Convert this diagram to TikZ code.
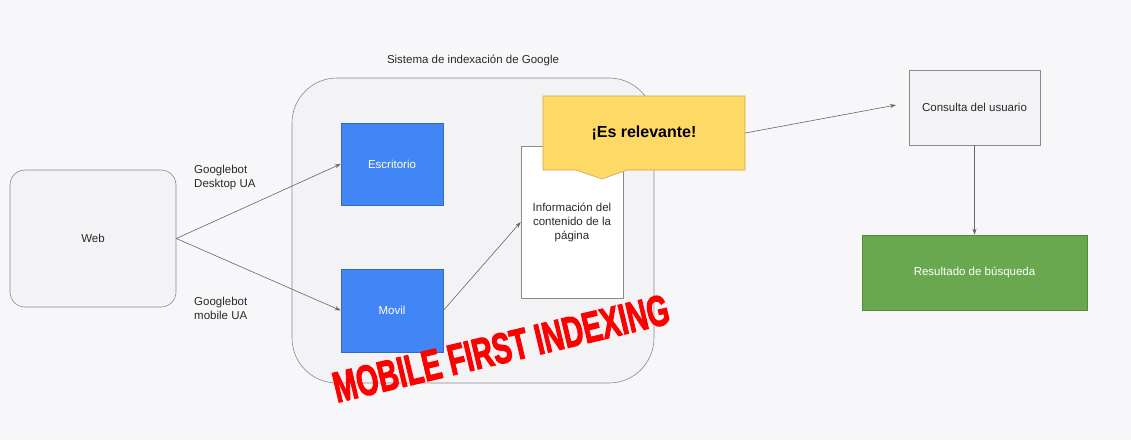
\documentclass[tikz,border=0pt]{standalone}
\usepackage{fontspec}
\usepackage{graphicx}
\setmainfont{Liberation Sans}
\newfontfamily\heavyfont{Liberation Sans}[BoldFeatures={FakeBold=3}]
\usetikzlibrary{arrows.meta}
\definecolor{bg}{HTML}{F7F6F9}
\definecolor{boxfill}{HTML}{F3F2F5}
\definecolor{edge}{HTML}{8A8A8A}
\definecolor{gblue}{HTML}{4285F4}
\definecolor{ggreen}{HTML}{6AA84F}
\definecolor{gyellow}{HTML}{FFD966}
\definecolor{yedge}{HTML}{C9A94A}
\definecolor{txt}{HTML}{2A2A2A}
\definecolor{arr}{HTML}{666666}
\tikzset{
  base/.style={draw=edge, line width=0.6pt, inner sep=2pt, align=center, font=\fontsize{11.5}{14}\selectfont, text=txt},
  soft/.style={base, fill=boxfill, rounded corners=15pt},
  plain/.style={base, fill=boxfill},
  bluebox/.style={base, fill=gblue, draw=gblue!80!black, text=white},
  greenbox/.style={base, fill=ggreen, draw=ggreen!80!black, text=white},
  conn/.style={draw=arr, line width=0.6pt, -{Stealth[length=6pt,width=4pt]}},
  lbl/.style={align=left, font=\fontsize{11.5}{14}\selectfont, text=txt, inner sep=0pt, anchor=north west},
}
\begin{document}
\begin{tikzpicture}[x=1pt,y=-1pt]
\fill[bg] (0,0) rectangle (1131,440);
\useasboundingbox (0,0) rectangle (1131,440);

% container
\draw[edge, line width=0.6pt, fill=boxfill, rounded corners=45pt] (292,78) rectangle (654,383);
\node[lbl, anchor=center] (title) at (473,60) {Sistema de indexación de Google};

\node[soft, minimum width=166pt, minimum height=137pt] (web) at (93,238.5) {Web};
\node[bluebox, minimum width=102pt, minimum height=82pt] (esc) at (392,164) {Escritorio};
\node[bluebox, minimum width=102pt, minimum height=83pt] (mov) at (392,310.5) {Movil};
\node[base, fill=white, minimum width=102pt, minimum height=152pt] (info) at (572,222) {Información del\\contenido de la\\página};

\node[lbl] (l1) at (194,165) {Googlebot\\Desktop UA};
\node[lbl] (l2) at (194,297) {Googlebot\\mobile UA};

% callout
\draw[yedge, line width=0.6pt, fill=gyellow] (543,96) -- (745,96) -- (745,170) -- (627,170) -- (602,179) -- (576,170) -- (543,170) -- cycle;
\node[inner sep=0pt, minimum width=202pt, minimum height=74pt, font=\fontsize{16}{18}\selectfont\bfseries] (rel) at (644,133) {¡Es relevante!};

\node[plain, minimum width=131pt, minimum height=75pt] (cons) at (974.5,107.5) {Consulta del usuario};
\node[greenbox, minimum width=225pt, minimum height=75pt] (res) at (974.5,272.5) {Resultado de búsqueda};
\coordinate (consin) at (896,105);

\draw[conn] (web.east) -- (esc.west);
\draw[conn] (web.east) -- (mov.west);
\draw[conn] (mov.east) -- (info.west);
\draw[conn] (rel.east) -- (consin);
\draw[conn] (cons.south) -- (res.north);

\node[rotate=13.4, inner sep=0pt, text=red] (mfi) at (501,348.4) {\resizebox{344pt}{30pt}{\heavyfont\bfseries MOBILE FIRST INDEXING}};
\end{tikzpicture}
\end{document}
